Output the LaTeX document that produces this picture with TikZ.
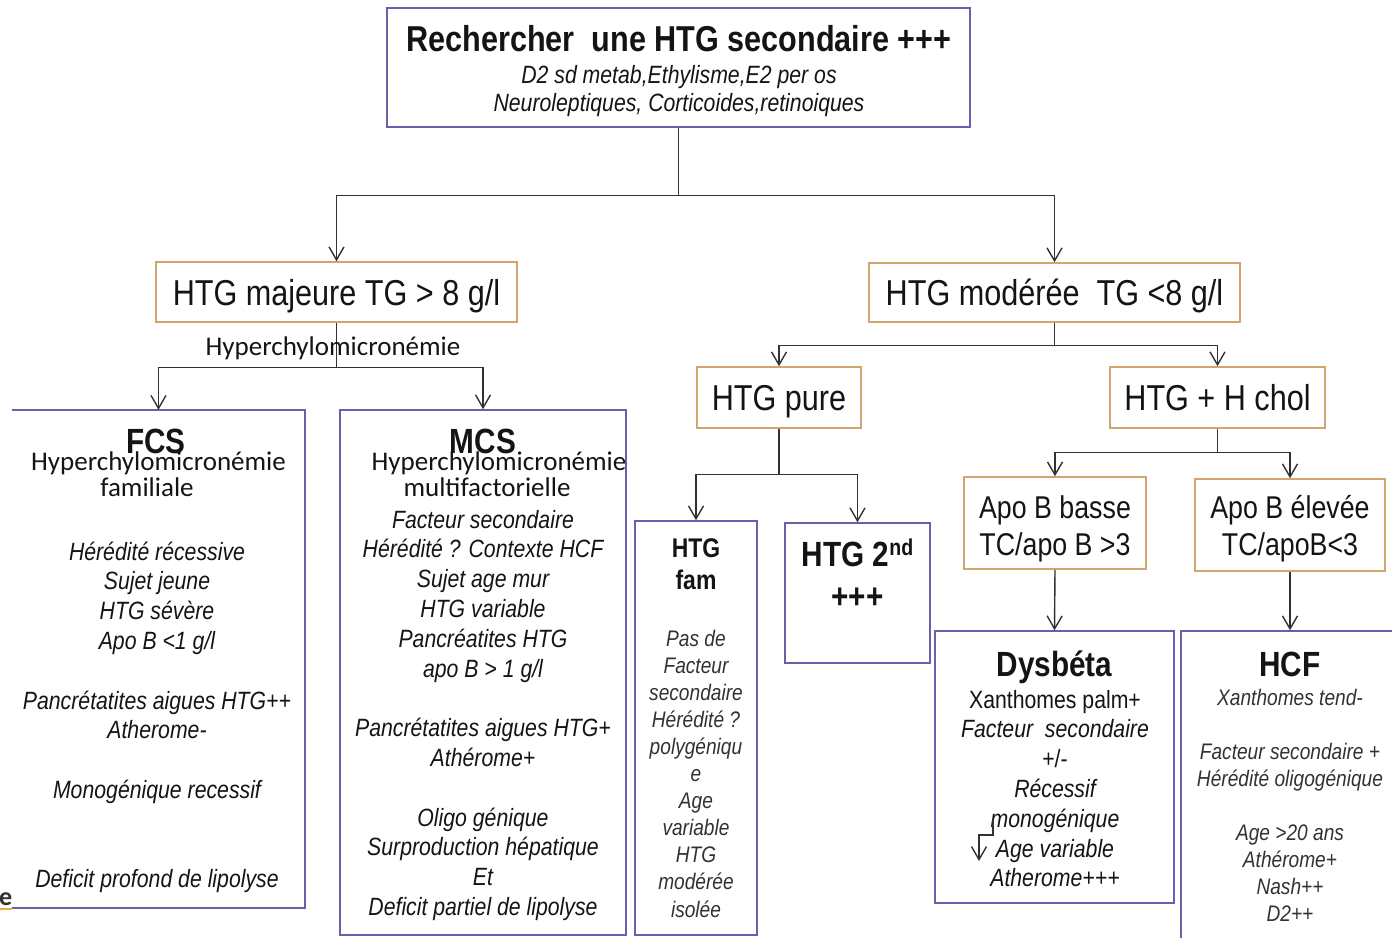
\documentclass[tikz,border=0pt]{standalone}
\usepackage{fontspec}
\setmainfont{Liberation Sans}[FakeStretch=0.85]
\newfontfamily\calibfont{Carlito}
\usetikzlibrary{arrows.meta}

\definecolor{frameviolet}{RGB}{105,95,170}
\definecolor{frametan}{RGB}{210,165,110}
\definecolor{wire}{RGB}{50,50,50}
\definecolor{ink}{RGB}{20,20,20}
\definecolor{softink}{RGB}{50,50,50}
\definecolor{markline}{RGB}{235,170,60}

\newcommand\fsz[2]{\fontsize{#1}{#2}\selectfont}
\newcommand\txtstack[1]{\begin{tabular}[t]{@{}c@{}}#1\end{tabular}}

\tikzset{
  vbox/.style={draw=frameviolet, line width=1.5pt, inner sep=0pt},
  tbox/.style={draw=frametan, line width=1.5pt, inner sep=0pt, text=ink,
               font=\fsz{36}{43}, text height=26pt, text depth=0pt},
  conn/.style={draw=wire, line width=1.4pt},
  arr/.style={conn, -{Straight Barb[length=13pt,width=15pt]}},
  blk/.style={anchor=base, inner sep=0pt, text=ink},
}

\begin{document}
\begin{tikzpicture}[x=1pt, y=-1pt]
\useasboundingbox (0,0) rectangle (1392,937);
\clip (0,0) rectangle (1392,937);

% ---- top box
\node[vbox, minimum width=583pt, minimum height=119pt] (top) at (678.5,67.5) {};
\node[blk, font=\fsz{36}{43}\bfseries] (toptitle) at (679,51) {Rechercher\ \ une HTG secondaire +++};
\node[blk, font=\fsz{25}{28}\itshape] (topsub) at (679,83)
  {\txtstack{D2 sd metab,Ethylisme,E2 per os\\Neuroleptiques, Corticoides,retinoiques}};

% ---- level 1
\node[tbox, minimum width=361pt, minimum height=60pt] (maj) at (336.5,292) {HTG majeure TG > 8 g/l};
\node[tbox, minimum width=371pt, minimum height=59pt] (mod) at (1054.5,292.5) {HTG modérée\ \ TG <8 g/l};

% ---- level 2 (moderate branch)
\node[tbox, minimum width=164pt, minimum height=61pt] (pure) at (779,397.5) {HTG pure};
\node[tbox, minimum width=215pt, minimum height=61pt] (chol) at (1217.5,397.5) {HTG + H chol};

\node[tbox, minimum width=182pt, minimum height=92pt] (basse) at (1055,523) {};
\node[blk, font=\fsz{31.5}{37}] (basseT) at (1055,518) {\txtstack{Apo B basse\\TC/apo B >3}};
\node[tbox, minimum width=190pt, minimum height=92pt] (elev) at (1290,525) {};
\node[blk, font=\fsz{31.5}{37}] (elevT) at (1290,518) {\txtstack{Apo B élevée\\TC/apoB<3}};

% ---- detail boxes
\node[minimum width=293pt, minimum height=498pt, inner sep=0pt] (fcs) at (158.5,659) {};
\draw[draw=frameviolet, line width=1.5pt] (fcs.north west) -- (fcs.north east) -- (fcs.south east) -- (fcs.south west);
\node[vbox, minimum width=286pt, minimum height=525pt] (mcs) at (483,672.5) {};
\node[vbox, minimum width=122pt, minimum height=414pt] (fam) at (696,728) {};
\node[vbox, minimum width=145pt, minimum height=140pt] (sec) at (857.5,593) {};
\node[vbox, minimum width=239pt, minimum height=272pt] (dys) at (1054.5,767) {};
\node[vbox, minimum width=218pt, minimum height=329pt] (hcf) at (1290,795.5) {};

% ---- connectors
\draw[arr] (top.south) -- ++(0,68) -| (maj.north);
\draw[arr] (top.south) -- ++(0,68) -| (mod.north);
\draw[arr] (maj.south) -- ++(0,45) -| (fcs.north);
\draw[arr] (maj.south) -- ++(0,45) -| (mcs.north);
\draw[arr] (mod.south) -- ++(0,23) -| (pure.north);
\draw[arr] (mod.south) -- ++(0,23) -| (chol.north);
\draw[arr] (pure.south) -- ++(0,46) -| (fam.north);
\draw[arr] (pure.south) -- ++(0,46) -| (sec.north);
\draw[arr] (chol.south) -- ++(0,24) -| (basse.north);
\draw[arr] (chol.south) -- ++(0,24) -| (elev.north);
\draw[arr] (basse.south) -- (dys.north);
\draw[arr] (elev.south) -- (hcf.north);

% ---- label under the major branch
\node[blk, font=\calibfont\fsz{27}{32}] (chylo) at (333,355) {Hyperchylomicronémie};

% ---- FCS
\node[blk, font=\fsz{35}{42}\bfseries] (fcsT) at (156,453) {FCS};
\node[blk, font=\calibfont\fsz{27}{26}] (fcsH) at (158.5,470)
  {\txtstack{Hyperchylomicronémie\\familiale\hspace*{23pt}}};
\node[blk, font=\fsz{25}{29.8}\itshape] (fcsL) at (157,560)
  {\txtstack{Hérédité récessive\\Sujet jeune\\HTG sévère\\Apo B <1 g/l\\ \\Pancrétatites aigues HTG++\\Atherome-\\ \\Monogénique recessif\\ \\ \\Deficit profond de lipolyse}};

% ---- MCS
\node[blk, font=\fsz{35}{42}\bfseries] (mcsT) at (483,453) {MCS};
\node[blk, font=\calibfont\fsz{27}{26}] (mcsH) at (487,470)
  {\txtstack{\hspace*{24pt}Hyperchylomicronémie\\multifactorielle}};
\node[blk, font=\fsz{25}{29.8}\itshape] (mcsL) at (483,528)
  {\txtstack{Facteur secondaire\\Hérédité ? Contexte HCF\\Sujet age mur\\HTG variable\\Pancréatites HTG\\apo B > 1 g/l\\ \\Pancrétatites aigues HTG+\\Athérome+\\ \\Oligo génique\\Surproduction hépatique\\Et\\Deficit partiel de lipolyse}};

% ---- HTG fam
\node[blk, font=\fsz{27}{32}\bfseries] (famT) at (696,557) {\txtstack{HTG\\fam}};
\node[blk, font=\fsz{22.5}{27.1}\itshape, text=softink] (famL) at (696,646)
  {\txtstack{Pas de\\Facteur\\secondaire\\Hérédité ?\\polygéniqu\\e\\Age\\variable\\HTG\\modérée\\isolée}};

% ---- HTG 2nd
\node[blk, font=\fsz{35}{42}\bfseries] (secT) at (857.5,566)
  {\txtstack{HTG 2\raisebox{11pt}{\fsz{23}{23}nd}\\+++}};

% ---- Dysbeta
\node[blk, font=\fsz{35}{42}\bfseries] (dysT) at (1054.5,676) {Dysbéta};
\node[blk, font=\fsz{25}{29.8}] (dysL) at (1055,708)
  {\txtstack{Xanthomes palm+\\ \itshape Facteur\ \ secondaire\\+/-\\ \itshape Récessif\\ \itshape monogénique\\ \itshape Age variable\\ \itshape Atherome+++}};
\coordinate (kinkA) at (993,820);
\coordinate (kinkB) at (979,861);
\draw[arr] (kinkA) -- ++(0,15) -| (kinkB);

% ---- HCF
\node[blk, font=\fsz{35}{42}\bfseries] (hcfT) at (1290,676) {HCF};
\node[blk, font=\fsz{22.5}{27}\itshape, text=softink] (hcfL) at (1290,705)
  {\txtstack{Xanthomes tend-\\ \\Facteur secondaire +\\Hérédité oligogénique\\ \\Age >20 ans\\Athérome+\\Nash++\\D2++}};

% ---- clipped word at the left edge
\node[anchor=base west, inner sep=0pt, font=\calibfont\bfseries\fsz{26}{30}, text=softink] (stub) at (-1,905) {e};
\draw[draw=markline, line width=1.5pt] (0,909) -- (12,909);

\end{tikzpicture}
\end{document}
